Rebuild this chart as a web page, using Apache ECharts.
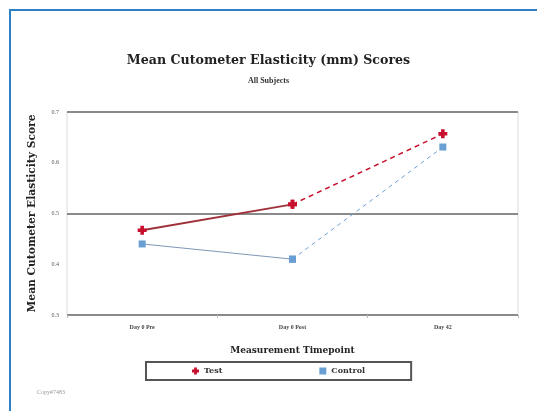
<!DOCTYPE html>
<html>
<head>
<meta charset="utf-8">
<script src="https://cdn.jsdelivr.net/npm/echarts@6/dist/echarts.min.js"></script>
<style>
  html, body {margin: 0; padding: 0; background: #fff;}
  #chart {width: 537px; height: 411px;}
</style>
</head>
<body>
<div id="chart"></div>
<script>
// values
const timepoints = ["Day 0 Pre", "Day 0 Post", "Day 42"];
const testValues = [0.467, 0.518, 0.657];
const controlValues = [0.44, 0.41, 0.631];
const yTicks = [0.3, 0.4, 0.5, 0.6, 0.7];

const red = "#c8102e";
const blue = "#6a9fd3";
const serif = "'Liberation Serif', 'DejaVu Serif', serif";
const wideSerif = "'DejaVu Serif', serif";
const plusPath = "path://M3,0 H7 V3 H10 V7 H7 V10 H3 V7 H0 V3 H3 Z";

// first segment solid, second dashed
function solidPart(values) {
  return [values[0], values[1], null];
}
function dashedPart(values) {
  return [null, values[1], values[2]];
}

const chart = echarts.init(document.getElementById("chart"));

const option = {
  backgroundColor: "#fff",
  animation: false,
  title: [
    {
      text: "Mean Cutometer Elasticity (mm) Scores",
      left: "center", top: 49,
      textStyle: {fontFamily: wideSerif, fontSize: 12.6, fontWeight: "bold", color: "#222"},
    },
    {
      text: "All Subjects",
      left: "center", top: 72,
      textStyle: {fontFamily: serif, fontSize: 8, fontWeight: "bold", color: "#333"},
    },
  ],
  grid: {
    left: 67, right: 19, top: 112, bottom: 96,
    show: true, borderColor: "#dcdcdc", borderWidth: 1,
  },
  legend: {
    data: [
      {name: "Test", icon: plusPath, itemStyle: {color: red}},
      {name: "Control", icon: "rect", itemStyle: {color: blue}},
    ],
    left: 146, top: 362,
    itemWidth: 7, itemHeight: 7, itemGap: 97,
    padding: [5, 46, 5, 46],
    borderColor: "#555", borderWidth: 2,
    textStyle: {fontFamily: wideSerif, fontSize: 8, fontWeight: "bold", color: "#333"},
  },
  xAxis: {
    type: "category",
    data: timepoints,
    name: "Measurement Timepoint",
    nameLocation: "middle", nameGap: 31,
    nameTextStyle: {fontFamily: wideSerif, fontSize: 9, fontWeight: "bold", color: "#222"},
    axisLine: {show: false},
    axisTick: {show: true, length: 3, lineStyle: {color: "#bbb"}},
    axisLabel: {fontFamily: serif, fontSize: 6, fontWeight: "bold", color: "#444", margin: 9},
  },
  yAxis: {
    type: "value",
    min: yTicks[0], max: yTicks[yTicks.length - 1], interval: 0.1,
    name: "Mean Cutometer Elasticity Score",
    nameLocation: "middle", nameGap: 29,
    nameTextStyle: {fontFamily: wideSerif, fontSize: 10.7, fontWeight: "bold", color: "#222"},
    axisLine: {show: false},
    axisTick: {show: false},
    axisLabel: {fontFamily: serif, fontSize: 6, color: "#555", margin: 8, formatter: (v) => v.toFixed(1)},
    splitLine: {show: true, lineStyle: {color: ["#8a8a8a", "transparent"], width: 2}},
  },
  series: [
    {
      name: "Test", type: "line", data: solidPart(testValues),
      symbol: plusPath, symbolSize: 9,
      itemStyle: {color: red}, lineStyle: {color: "#a0303a", width: 1.8},
      z: 4,
    },
    {
      name: "Test", type: "line", data: dashedPart(testValues),
      symbol: plusPath, symbolSize: 9,
      itemStyle: {color: red}, lineStyle: {color: red, width: 1.5, type: [5, 4]},
      z: 4,
    },
    {
      name: "Control", type: "line", data: solidPart(controlValues),
      symbol: "rect", symbolSize: 7,
      itemStyle: {color: blue}, lineStyle: {color: "#7f97b8", width: 1},
      z: 3,
    },
    {
      name: "Control", type: "line", data: dashedPart(controlValues),
      symbol: "rect", symbolSize: 7,
      itemStyle: {color: blue}, lineStyle: {color: blue, width: 1, type: [4, 4]},
      z: 3,
    },
  ],
  graphic: [
    {
      type: "polyline",
      shape: {points: [[10, 411], [10, 10], [537, 10]]},
      style: {stroke: "#2d7fc6", lineWidth: 2, fill: null},
    },
    {
      type: "text", left: 37, top: 389,
      style: {text: "Copy#7483", font: "6px " + serif, fill: "#999"},
    },
  ],
};

chart.setOption(option);
</script>
</body>
</html>
